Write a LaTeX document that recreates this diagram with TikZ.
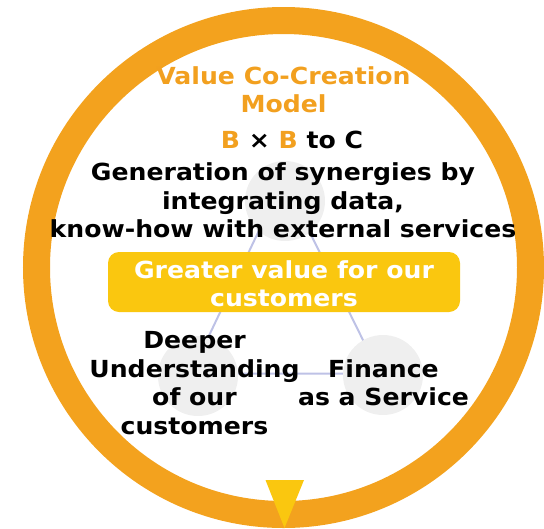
\documentclass[tikz,border=0pt]{standalone}
\usepackage{fontspec}
\setmainfont{DejaVu Sans}[FakeStretch=1.07]
\definecolor{ringorange}{HTML}{F3A21E}
\definecolor{titleorange}{HTML}{F2A01F}
\definecolor{boxyellow}{HTML}{FAC70F}
\definecolor{bubblegray}{HTML}{EFEFEF}
\definecolor{linklav}{HTML}{BEC2E6}
\begin{document}
\begin{tikzpicture}[x=1pt,y=-1pt,
  txt/.style={font=\fontsize{23.5}{28.7}\selectfont\bfseries, align=center, inner sep=0pt},
  bubble/.style={circle, fill=bubblegray, minimum size=80pt, inner sep=0pt},
  link/.style={draw=linklav, line width=2pt}]
\useasboundingbox (0,0) rectangle (544,528);
% ring
\draw[ringorange, line width=27pt] (283.5,267.5) circle (247);
% triangle links
\coordinate (tA) at (283.5,179);
\coordinate (tB) at (191,373.5);
\coordinate (tC) at (379.5,373.5);
\draw[link] (tA) -- (tB) -- (tC) -- cycle;
% bubbles
\node[bubble] (top) at (285,201) {};
\node[bubble] (left) at (198,376) {};
\node[bubble] (right) at (383,375) {};
% central box
\node[fill=boxyellow, rounded corners=11pt, minimum width=352pt, minimum height=60pt, inner sep=0pt] (box) at (284,282) {};
\node[txt, text=white] (boxtxt) at (284,283.7) {Greater value for our\\customers};
% texts
\node[txt, text=titleorange] (title) at (283.5,89.8) {Value Co-Creation\\Model};
\node[txt] (bb) at (292,140) {{\color{titleorange}B} × {\color{titleorange}B} to C};
\node[txt] (gen) at (283,200.3) {Generation of synergies by\\integrating data,\\know-how with external services};
\node[txt] (deep) at (194.5,383) {Deeper\\Understanding\\of our\\customers};
\node[txt] (fin) at (383.5,382.7) {Finance\\as a Service};
% marker
\coordinate (mk1) at (265.5,480);
\coordinate (mk2) at (304,480);
\coordinate (mk3) at (284.5,528);
\fill[boxyellow] (mk1) -- (mk2) -- (mk3) -- cycle;
\end{tikzpicture}
\end{document}
